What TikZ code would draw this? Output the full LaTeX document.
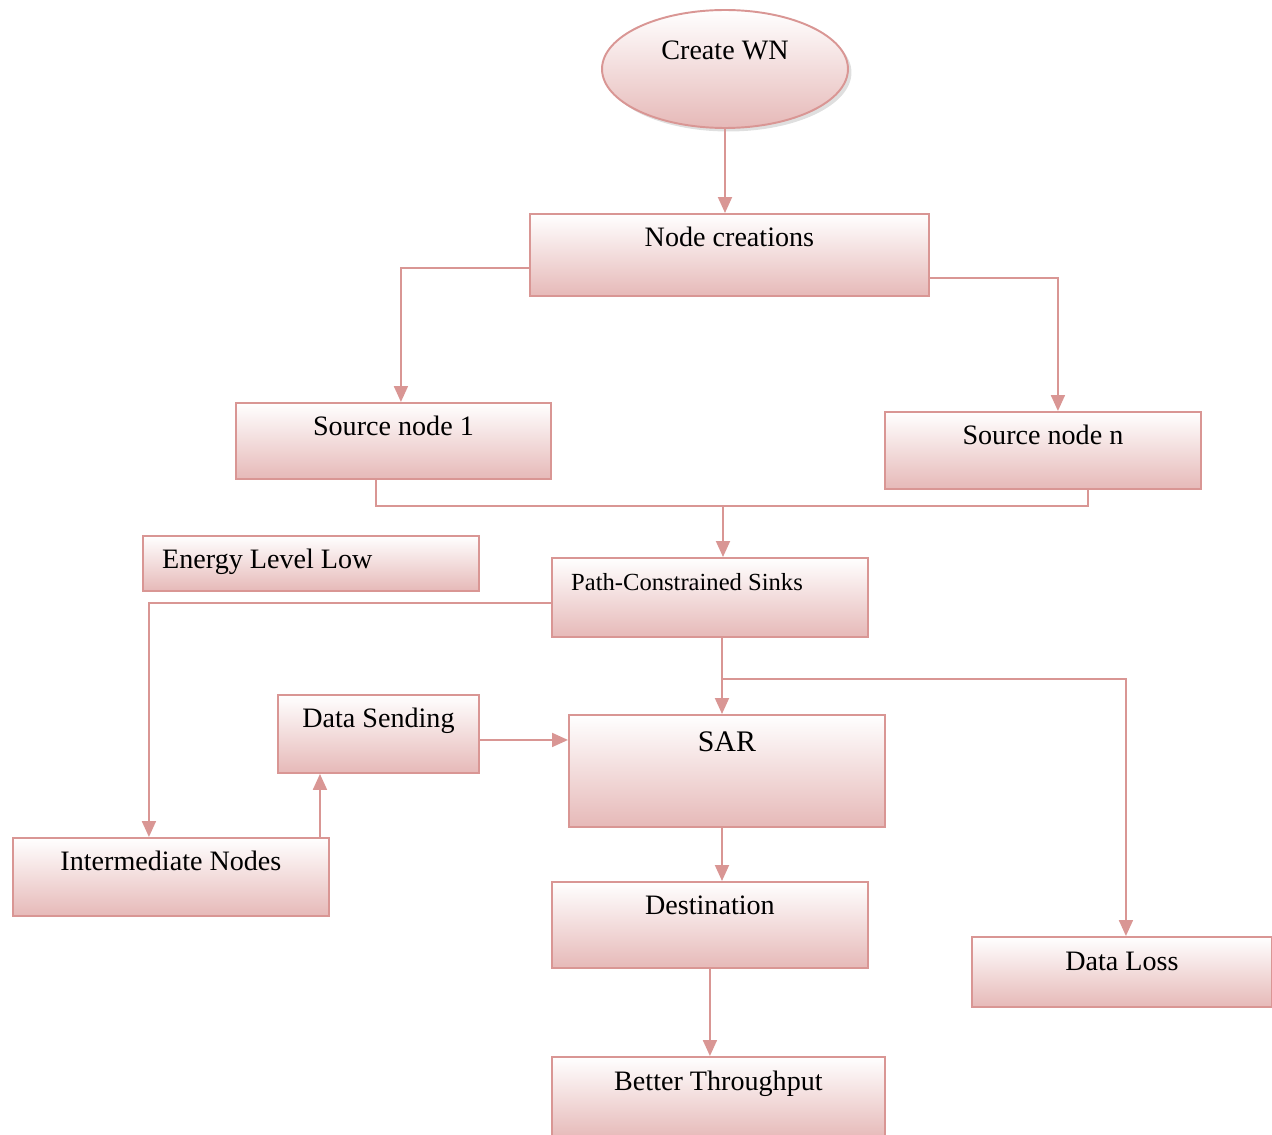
\documentclass[tikz,border=0pt]{standalone}
\usepackage{fontspec}
\setmainfont{Liberation Serif}
\usepackage{tikz}
\usetikzlibrary{arrows.meta, shapes.geometric, shadows}
\definecolor{edgepink}{HTML}{D99694}
\definecolor{fillpink}{HTML}{E6B9B8}

\begin{document}
\begin{tikzpicture}[
    x=0.02cm, y=-0.02cm,
    txt/.style={font=\fontsize{16}{19}\selectfont},
    box/.style={rectangle, draw=edgepink, line width=1.1pt, top color=white, bottom color=fillpink, anchor=north west, inner sep=0pt},
    title/.style={txt, anchor=base, yshift=#1},
    title/.default=-0.68cm,
    ltitle/.style={txt, anchor=base west, xshift=0.28cm, yshift=-0.68cm},
    conn/.style={draw=edgepink, line width=1.1pt},
    arr/.style={conn, -{Triangle[length=3.2mm, width=2.8mm]}},
  ]
  \useasboundingbox (0,0) rectangle (1272,1135);

  \node[ellipse, draw=edgepink, line width=1.1pt, top color=white, bottom color=fillpink,
        minimum width=4.92cm, minimum height=2.36cm, inner sep=0pt,
        drop shadow={opacity=0.25, shadow xshift=0.07cm, shadow yshift=-0.07cm},
        label={[title=-1.0cm]north:Create WN}] (create) at (725,69) {};

  \node[box, minimum width=7.98cm, minimum height=1.64cm, label={[title]north:Node creations}] (nc) at (529,213) {};
  \node[box, minimum width=6.3cm, minimum height=1.52cm, label={[title]north:Source node 1}] (src1) at (235,402) {};
  \node[box, minimum width=6.32cm, minimum height=1.54cm, label={[title]north:Source node n}] (srcn) at (884,411) {};
  \node[box, minimum width=6.72cm, minimum height=1.1cm, label={[ltitle]north west:Energy Level Low}] (energy) at (142,535) {};
  \node[box, minimum width=6.32cm, minimum height=1.58cm,
        label={[ltitle, font=\fontsize{14}{17}\selectfont]north west:Path-Constrained Sinks}] (pcs) at (551,557) {};
  \node[box, minimum width=4.02cm, minimum height=1.56cm, label={[title]north:Data Sending}] (send) at (277,694) {};
  \node[box, minimum width=6.32cm, minimum height=2.24cm,
        label={[title=-0.76cm, font=\fontsize{17}{20}\selectfont]north:SAR}] (sar) at (568,714) {};
  \node[box, minimum width=6.32cm, minimum height=1.56cm, label={[title]north:Intermediate Nodes}] (inter) at (12,837) {};
  \node[box, minimum width=6.32cm, minimum height=1.72cm, label={[title]north:Destination}] (dest) at (551,881) {};
  \node[box, minimum width=6.0cm, minimum height=1.4cm, label={[title=-0.7cm]north:Data Loss}] (loss) at (971,936) {};
  \node[box, minimum width=6.66cm, minimum height=1.64cm, label={[title=-0.7cm]north:Better Throughput}] (better) at (551,1056) {};

  \coordinate (join) at (723,506);
  \coordinate (split) at (722,679);

  \draw[arr] (create) -- (nc.north -| create);
  \draw[arr] ([yshift=-1.1cm]nc.north west) -| ([xshift=0.15cm]src1.north);
  \draw[arr] ([yshift=-1.3cm]nc.north east) -| ([xshift=0.3cm]srcn.north);

  % merge of the sources
  \draw[conn] ([xshift=-0.35cm]src1.south) |- (join) -| ([xshift=0.9cm]srcn.south);
  \draw[arr] (join) -- (pcs.north -| join);

  \draw[arr] ([yshift=-0.92cm]pcs.north west) -| ([xshift=-0.44cm]inter.north);
  \draw[arr] (pcs.south -| split) -- (sar.north -| split);
  \draw[arr] (split) -| ([xshift=0.08cm]loss.north);
  \draw[arr] ([xshift=-1.17cm]send.south |- inter.north) -- ([xshift=-1.17cm]send.south);
  \draw[arr] ([yshift=-0.12cm]send.east) -- ([yshift=-0.12cm]send.east -| sar.west);
  \draw[arr] (sar.south -| split) -- (dest.north -| split);
  \draw[arr] (dest.south) -- (dest.south |- better.north);
\end{tikzpicture}
\end{document}
